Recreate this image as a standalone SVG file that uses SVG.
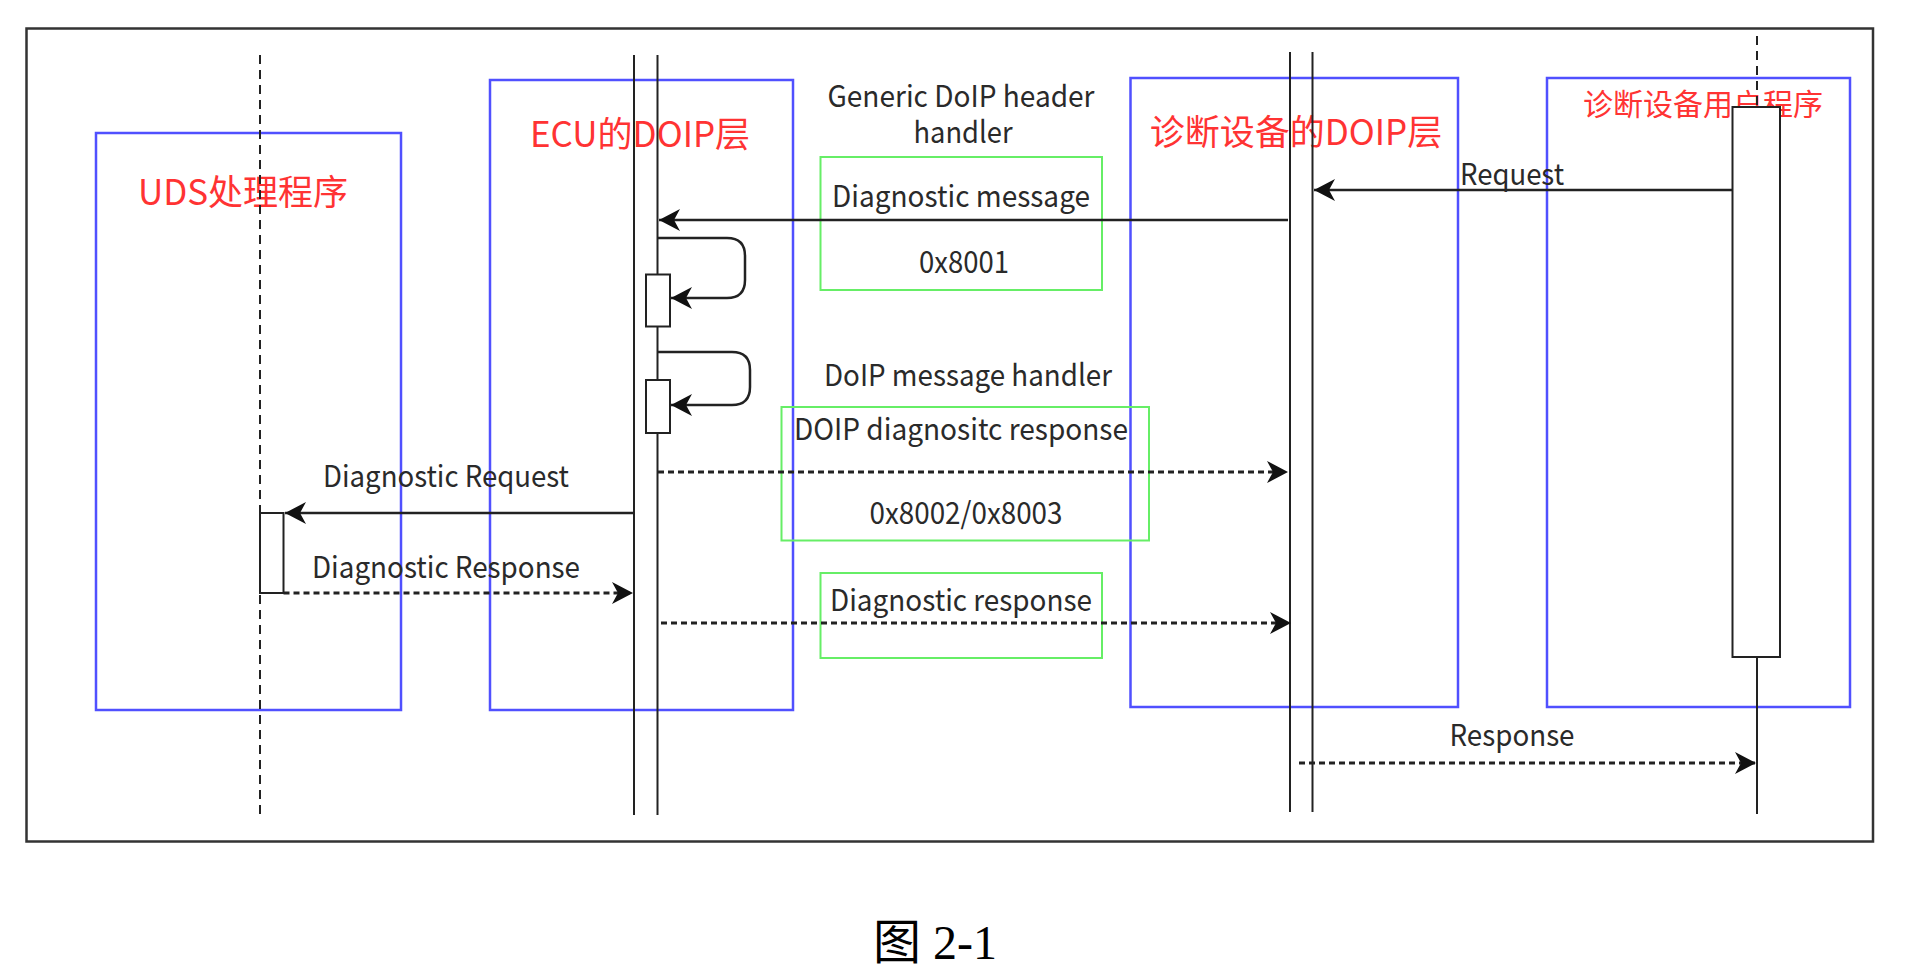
<svg xmlns="http://www.w3.org/2000/svg" width="1909" height="968" viewBox="0 0 1909 968">
<style>
.frame{fill:none;stroke:#333;stroke-width:2.5}
.blue{fill:none;stroke:#5050ff;stroke-width:2.5}
.green{fill:none;stroke:#66ee66;stroke-width:2}
.life{fill:none;stroke:#222;stroke-width:2}
.dlife{fill:none;stroke:#222;stroke-width:2;stroke-dasharray:9 6}
.act{fill:#fff;stroke:#222;stroke-width:2}
.msg{fill:none;stroke:#222;stroke-width:2.5}
.dmsg{fill:none;stroke:#222;stroke-width:3;stroke-dasharray:6 4}
.lbl{font-family:"Noto Sans CJK SC","Noto Sans",sans-serif;font-size:30px;fill:#2a2a2a;text-anchor:middle}
.title{font-family:"Noto Sans CJK SC",sans-serif;fill:#ff3333;text-anchor:middle}
.cap{font-family:"Liberation Serif","Noto Sans CJK SC",serif;font-size:48px;fill:#000}
</style>
<defs>
<marker id="arr" markerUnits="userSpaceOnUse" markerWidth="22" markerHeight="24" viewBox="0 0 22 24" refX="21" refY="12" orient="auto">
<path d="M0,1 L21,12 L0,23 L6,12 Z" fill="#111"/>
</marker>
</defs>
<rect width="1909" height="968" fill="#fff"/>
<rect class="frame" x="26.5" y="28.5" width="1846.5" height="813"/>

<g id="uds">
<rect class="blue" x="96" y="133" width="305" height="577"/>
<text class="title" x="243" y="205" font-size="35">UDS处理程序</text>
<line class="dlife" x1="260" y1="55" x2="260" y2="815"/>
<rect class="act" x="260" y="513" width="23.5" height="80"/>
</g>

<g id="ecu">
<rect class="blue" x="490" y="80" width="303" height="630"/>
<text class="title" x="640" y="147" font-size="35">ECU的DOIP层</text>
<line class="life" x1="634" y1="55" x2="634" y2="815"/>
<line class="life" x1="657.5" y1="55" x2="657.5" y2="815"/>
<rect class="act" x="646" y="274.5" width="24" height="52"/>
<rect class="act" x="646" y="380" width="24" height="53"/>
</g>

<g id="diagdoip">
<rect class="blue" x="1130.5" y="78" width="327.5" height="629"/>
<text class="title" x="1296" y="145" font-size="35">诊断设备的DOIP层</text>
<line class="life" x1="1290" y1="52" x2="1290" y2="812"/>
<line class="life" x1="1312.5" y1="52" x2="1312.5" y2="812"/>
</g>

<g id="userprog">
<rect class="blue" x="1547" y="78" width="303" height="629"/>
<text class="title" x="1703" y="115" font-size="30">诊断设备用户程序</text>
<line class="dlife" x1="1757" y1="36" x2="1757" y2="107"/>
<line class="life" x1="1757" y1="657" x2="1757" y2="814"/>
<rect class="act" x="1732.5" y="107" width="47.5" height="550"/>
</g>

<g id="note-header">
<text class="lbl" x="961" y="107" textLength="267" lengthAdjust="spacingAndGlyphs">Generic DoIP header</text>
<text class="lbl" x="963" y="143" textLength="99" lengthAdjust="spacingAndGlyphs">handler</text>
<rect class="green" x="820.5" y="157" width="281.5" height="133"/>
<text class="lbl" x="961" y="207" textLength="258" lengthAdjust="spacingAndGlyphs">Diagnostic message</text>
<text class="lbl" x="964" y="273" textLength="90" lengthAdjust="spacingAndGlyphs">0x8001</text>
</g>

<g id="note-handler">
<text class="lbl" x="968" y="386" textLength="288" lengthAdjust="spacingAndGlyphs">DoIP message handler</text>
<rect class="green" x="781.5" y="407" width="367.5" height="133.5"/>
<text class="lbl" x="961" y="440" textLength="334" lengthAdjust="spacingAndGlyphs">DOIP diagnositc response</text>
<text class="lbl" x="966" y="524" textLength="193" lengthAdjust="spacingAndGlyphs">0x8002/0x8003</text>
</g>

<g id="note-response">
<rect class="green" x="820.5" y="573" width="281.5" height="85"/>
<text class="lbl" x="961" y="611" textLength="262" lengthAdjust="spacingAndGlyphs">Diagnostic response</text>
</g>

<g id="connectors">
<line class="msg" x1="1732.5" y1="190" x2="1314" y2="190" marker-end="url(#arr)"/>
<text class="lbl" x="1512" y="185" textLength="104" lengthAdjust="spacingAndGlyphs">Request</text>
<line class="msg" x1="1288" y1="220" x2="659" y2="220" marker-end="url(#arr)"/>
<path class="msg" d="M658,238 H727 Q745,238 745,256 V280 Q745,298 727,298 H671" marker-end="url(#arr)"/>
<path class="msg" d="M658,352 H732 Q750,352 750,370 V387 Q750,405 732,405 H671" marker-end="url(#arr)"/>
<line class="dmsg" x1="658" y1="472" x2="1288" y2="472" marker-end="url(#arr)"/>
<line class="msg" x1="634" y1="513" x2="285" y2="513" marker-end="url(#arr)"/>
<text class="lbl" x="446" y="487" textLength="246" lengthAdjust="spacingAndGlyphs">Diagnostic Request</text>
<line class="dmsg" x1="283.5" y1="593" x2="633" y2="593" marker-end="url(#arr)"/>
<text class="lbl" x="446" y="578" textLength="268" lengthAdjust="spacingAndGlyphs">Diagnostic Response</text>
<line class="dmsg" x1="661" y1="623" x2="1291" y2="623" marker-end="url(#arr)"/>
<line class="dmsg" x1="1299" y1="763" x2="1756" y2="763" marker-end="url(#arr)"/>
<text class="lbl" x="1512" y="746" textLength="125" lengthAdjust="spacingAndGlyphs">Response</text>
</g>

<text class="cap" x="873" y="959">图 2-1</text>
</svg>
